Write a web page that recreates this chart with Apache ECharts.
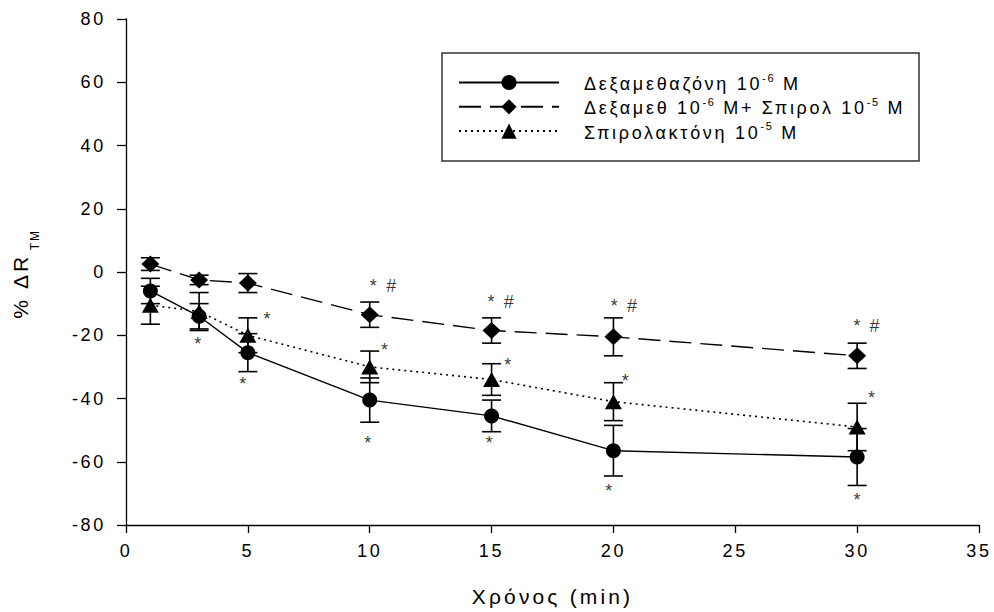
<!DOCTYPE html>
<html>
<head>
<meta charset="utf-8">
<script src="https://cdn.jsdelivr.net/npm/echarts@6/dist/echarts.min.js"></script>
<style>
  html, body { margin: 0; padding: 0; background: #fff; }
  #chart { width: 994px; height: 612px; }
  /* the original export has wide letter spacing on all text */
  #chart text { letter-spacing: 0.15em; }
</style>
</head>
<body>
<div id="chart"></div>
<script>
const times = [1, 3, 5, 10, 15, 20, 30]

// mean values and error bars
const dexaMean = [-6, -14, -25.5, -40.5, -45.5, -56.5, -58.5]
const dexaErr = [4, 4, 6, 7, 5, 8, 9]
const comboMean = [2.5, -2.5, -3.5, -13.5, -18.5, -20.5, -26.5]
const comboErr = [2, 1.5, 3, 4, 4, 6, 4]
const spiroMean = [-10.5, -12.5, -20, -30, -34, -41, -49]
const spiroErr = [6, 6, 5.5, 5, 5, 6, 7.5]

// ^{..} marks a superscript
const seriesNames = [
  'Δεξαμεθαζόνη 10^{-6} M',
  'Δεξαμεθ 10^{-6} M+ Σπιρολ 10^{-5} M',
  'Σπιρολακτόνη 10^{-5} M'
]

// significance marks, [x, y] in data units
const starMarks = [
  [3, -21.5], [4.85, -34.1], [5.84, -13.6],
  [10.2, -3.1], [10.66, -23.4], [9.98, -52.9],
  [15.03, -8.3], [15.72, -28], [14.96, -52.9],
  [20.09, -9.4], [20.54, -33.1], [19.86, -68.1],
  [30.05, -15.7], [30.64, -38.6], [30.05, -70.8]
]
const hashMarks = [[10.94, -4.4], [15.76, -9.4], [20.82, -10.8], [30.77, -17.1]]

const font = 'Liberation Sans, Arial, sans-serif'
const spacing = 0.15 // same as the css letter-spacing (em)
const legendSize = 18
const supSize = 11

// legend names -> rich text; each piece is pushed right by the
// letter spacing that the previous piece gained
const legendRich = {}
function toRich(name) {
  const parts = name.split(/\^\{([^}]*)\}/)
  let out = ''
  let shift = 20
  parts.forEach((txt, i) => {
    if (!txt) return
    const sup = i % 2 === 1
    const key = (sup ? 's' : 'n') + Math.round(shift * 10)
    legendRich[key] = {
      fontSize: sup ? supSize : legendSize,
      fontFamily: font,
      color: '#000',
      verticalAlign: sup ? 'top' : 'bottom',
      lineHeight: sup ? supSize : 21,
      padding: [0, 0, 0, shift]
    }
    out += '{' + key + '|' + txt + '}'
    shift = [...txt].length * (sup ? supSize : legendSize) * spacing
  })
  return out
}
const legendText = {}
seriesNames.forEach(n => { legendText[n] = toRich(n) })

const toPoints = mean => times.map((t, i) => [t, mean[i]])
const toErrors = (mean, err) => times.map((t, i) => [t, mean[i] - err[i], mean[i] + err[i]])

// vertical error bar with caps
function renderErr(params, api) {
  const x = api.value(0)
  const lo = api.coord([x, api.value(1)])
  const hi = api.coord([x, api.value(2)])
  const w = 9.5
  const style = { stroke: '#000', lineWidth: 1.6 }
  return {
    type: 'group',
    children: [
      { type: 'line', shape: { x1: lo[0], y1: lo[1], x2: hi[0], y2: hi[1] }, style },
      { type: 'line', shape: { x1: hi[0] - w, y1: hi[1], x2: hi[0] + w, y2: hi[1] }, style },
      { type: 'line', shape: { x1: lo[0] - w, y1: lo[1], x2: lo[0] + w, y2: lo[1] }, style }
    ]
  }
}

const errSeries = err => ({
  type: 'custom',
  renderItem: renderErr,
  data: err,
  encode: { x: 0, y: [1, 2] },
  z: 1,
  silent: true
})

const markSeries = (data, offset) => ({
  type: 'scatter',
  data: data,
  symbolSize: 1,
  itemStyle: { color: 'rgba(0,0,0,0)' },
  label: {
    show: true,
    position: 'inside',
    formatter: p => (offset ? '*' : '#'),
    color: '#000',
    fontSize: 18,
    fontFamily: font,
    offset: [0, offset]
  },
  silent: true,
  z: 5
})

const chart = echarts.init(document.getElementById('chart'), null, { renderer: 'svg' })

chart.setOption({
  animation: false,
  backgroundColor: '#fff',
  textStyle: { fontFamily: font, color: '#000' },
  grid: { left: 126, right: 15, top: 19, bottom: 87 },
  xAxis: {
    type: 'value',
    min: 0,
    max: 35,
    interval: 5,
    name: 'Χρόνος (min)',
    nameLocation: 'middle',
    nameGap: 61,
    nameTextStyle: { fontSize: 21, color: '#000', fontFamily: font },
    axisLine: { show: true, onZero: false, lineStyle: { color: '#000', width: 1.3 } },
    axisTick: { show: true, inside: false, length: 8, lineStyle: { color: '#000', width: 1.3 } },
    axisLabel: { fontSize: 18, color: '#000', margin: 17, fontFamily: font },
    splitLine: { show: false }
  },
  yAxis: {
    type: 'value',
    min: -80,
    max: 80,
    interval: 20,
    name: '{a|% ΔR}{s|TM}',
    nameLocation: 'middle',
    nameGap: 85,
    nameTextStyle: {
      color: '#000',
      fontFamily: font,
      rich: {
        a: { fontSize: 21, fontFamily: font, color: '#000', verticalAlign: 'top', padding: [0, 0, 10, 0] },
        s: { fontSize: 12, fontFamily: font, color: '#000', verticalAlign: 'bottom', padding: [0, 0, 0, 11] }
      }
    },
    axisLine: { show: true, onZero: false, lineStyle: { color: '#000', width: 1.3 } },
    axisTick: { show: true, inside: false, length: 9, lineStyle: { color: '#000', width: 1.3 } },
    axisLabel: { fontSize: 18, color: '#000', margin: 20, fontFamily: font },
    splitLine: { show: false }
  },
  legend: {
    data: seriesNames,
    orient: 'vertical',
    left: 458,
    top: 72,
    padding: 0,
    itemWidth: 100,
    itemHeight: 19,
    itemGap: 3.3,
    formatter: name => legendText[name],
    textStyle: { fontSize: legendSize, color: '#000', fontFamily: font, rich: legendRich }
  },
  graphic: [{
    type: 'rect',
    shape: { x: 442, y: 53, width: 477, height: 108 },
    style: { fill: 'none', stroke: '#333', lineWidth: 1.5 },
    silent: true
  }],
  series: [
    errSeries(toErrors(dexaMean, dexaErr)),
    errSeries(toErrors(comboMean, comboErr)),
    errSeries(toErrors(spiroMean, spiroErr)),
    {
      name: seriesNames[0],
      type: 'line',
      data: toPoints(dexaMean),
      symbol: 'circle',
      symbolSize: 15,
      itemStyle: { color: '#000' },
      lineStyle: { color: '#000', width: 1.4, type: 'solid' },
      z: 3
    },
    {
      name: seriesNames[1],
      type: 'line',
      data: toPoints(comboMean),
      symbol: 'diamond',
      symbolSize: [18, 17],
      itemStyle: { color: '#000' },
      lineStyle: { color: '#000', width: 1.4, type: [22, 9] },
      z: 3
    },
    {
      name: seriesNames[2],
      type: 'line',
      data: toPoints(spiroMean),
      symbol: 'triangle',
      symbolSize: [17, 15],
      itemStyle: { color: '#000' },
      lineStyle: { color: '#000', width: 1.6, type: [2, 4] },
      z: 3
    },
    markSeries(starMarks, 4),
    markSeries(hashMarks, 0)
  ]
})
</script>
</body>
</html>
